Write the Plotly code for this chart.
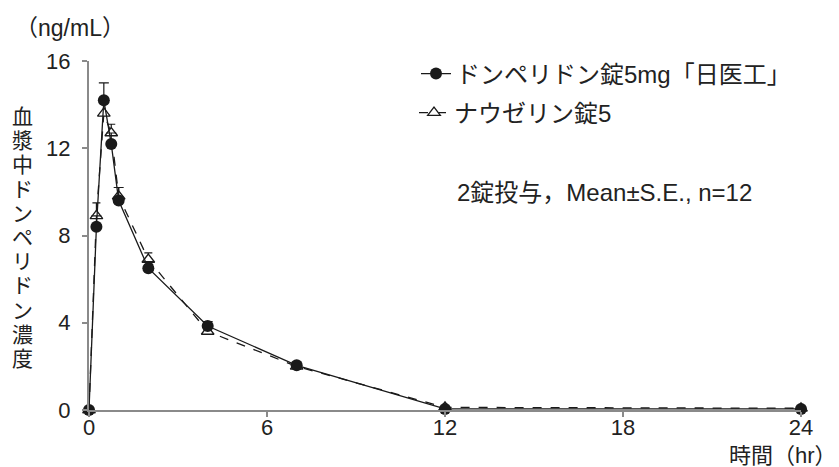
import plotly.graph_objects as go

# ---- data ----
times = [0, 0.25, 0.5, 0.75, 1, 2, 4, 7, 12, 24]
dom_mean = [0, 8.4, 14.2, 12.2, 9.6, 6.5, 3.85, 2.05, 0.05, 0.05]
dom_se = [0, 0.5, 0.8, 0.5, 0.6, 0.3, 0.2, 0.15, 0.02, 0.02]
nau_mean = [0, 8.9, 13.6, 12.7, 9.8, 6.9, 3.6, 2.0, 0.12, 0.08]
nau_se = [0, 0.6, 0.7, 0.4, 0.4, 0.3, 0.2, 0.15, 0.02, 0.02]

series_names = ["ドンペリドン錠5mg「日医工」", "ナウゼリン錠5"]
x_ticks = [0, 6, 12, 18, 24]
y_ticks = [0, 4, 8, 12, 16]
y_title = "血漿中ドンペリドン濃度"
y_unit = "（ng/mL）"
x_title = "時間（hr）"
note = "2錠投与，Mean±S.E., n=12"

W, H = 839, 467
ML, MR, MT, MB = 89, 38, 61, 57
PW, PH = W - ML - MR, H - MT - MB
FONT = "Liberation Sans, Arial, Noto Sans CJK JP, sans-serif"
INK = "#1a1a1a"
TXT = "#222"


def px_x(p):
    return (p - ML) / PW


def px_y(p):
    return (H - MB - p) / PH


fig = go.Figure()
fig.add_trace(go.Scatter(
    x=times, y=nau_mean, name=series_names[1], mode="lines+markers",
    line=dict(color=INK, width=1.3, dash="dash"),
    marker=dict(symbol="triangle-up", size=11, color="white",
                line=dict(color=INK, width=1.3)),
    error_y=dict(type="data", array=nau_se, arrayminus=[0] * len(nau_se),
                 symmetric=False, color=INK, thickness=1.2, width=4),
    cliponaxis=False, legend="legend2",
))
fig.add_trace(go.Scatter(
    x=times, y=dom_mean, name=series_names[0], mode="lines+markers",
    line=dict(color=INK, width=1.3),
    marker=dict(symbol="circle", size=12, color=INK),
    error_y=dict(type="data", array=dom_se, arrayminus=[0] * len(dom_se),
                 symmetric=False, color=INK, thickness=1.2, width=5),
    cliponaxis=False, legend="legend",
))

axis_common = dict(
    showgrid=False, zeroline=False, showline=True, linecolor="#8a8a8a",
    linewidth=2, ticks="outside", ticklen=5, tickcolor="#8a8a8a",
    tickwidth=1.5, tickfont=dict(family=FONT, size=22, color=TXT),
)
fig.update_xaxes(range=[0, 24], tickvals=x_ticks, ticktext=[str(v) for v in x_ticks],
                 ticklabelstandoff=-8, **axis_common)
fig.update_yaxes(range=[0, 16], tickvals=y_ticks, ticktext=[str(v) for v in y_ticks],
                 ticklabelstandoff=7, **axis_common)

annotations = []
# vertical stacked y-axis title, one character per row
step = 24.2
top = 115
for i, ch in enumerate(y_title):
    annotations.append(dict(
        text=ch, x=px_x(22), y=px_y(top + i * step), xref="paper", yref="paper",
        xanchor="center", yanchor="middle", showarrow=False, height=24,
        font=dict(family="Noto Sans CJK JP", size=21, color=TXT)))
annotations.append(dict(
    text=y_unit, x=px_x(13), y=px_y(28), xref="paper", yref="paper",
    xanchor="left", yanchor="middle", showarrow=False,
    font=dict(family=FONT, size=23, color=TXT)))
annotations.append(dict(
    text=x_title, x=px_x(839), y=px_y(455), xref="paper", yref="paper",
    xanchor="right", yanchor="middle", showarrow=False,
    font=dict(family=FONT, size=22, color=TXT)))
annotations.append(dict(
    text=note, x=px_x(455), y=px_y(192), xref="paper", yref="paper",
    xanchor="left", yanchor="middle", showarrow=False,
    font=dict(family=FONT, size=24, color=TXT)))

legend_common = dict(xanchor="left", yanchor="middle", bgcolor="rgba(0,0,0,0)",
                     borderwidth=0, font=dict(family=FONT, size=24, color=TXT),
                     itemwidth=30)
fig.update_layout(
    width=W, height=H, margin=dict(l=ML, r=MR, t=MT, b=MB),
    paper_bgcolor="white", plot_bgcolor="white",
    showlegend=True,
    legend=dict(x=px_x(416), y=px_y(74), **legend_common),
    legend2=dict(x=px_x(414), y=px_y(113), **legend_common),
    annotations=annotations,
)

fig.write_html("out.html", config={"displayModeBar": False},
               post_script="document.body.style.margin='0px';")
